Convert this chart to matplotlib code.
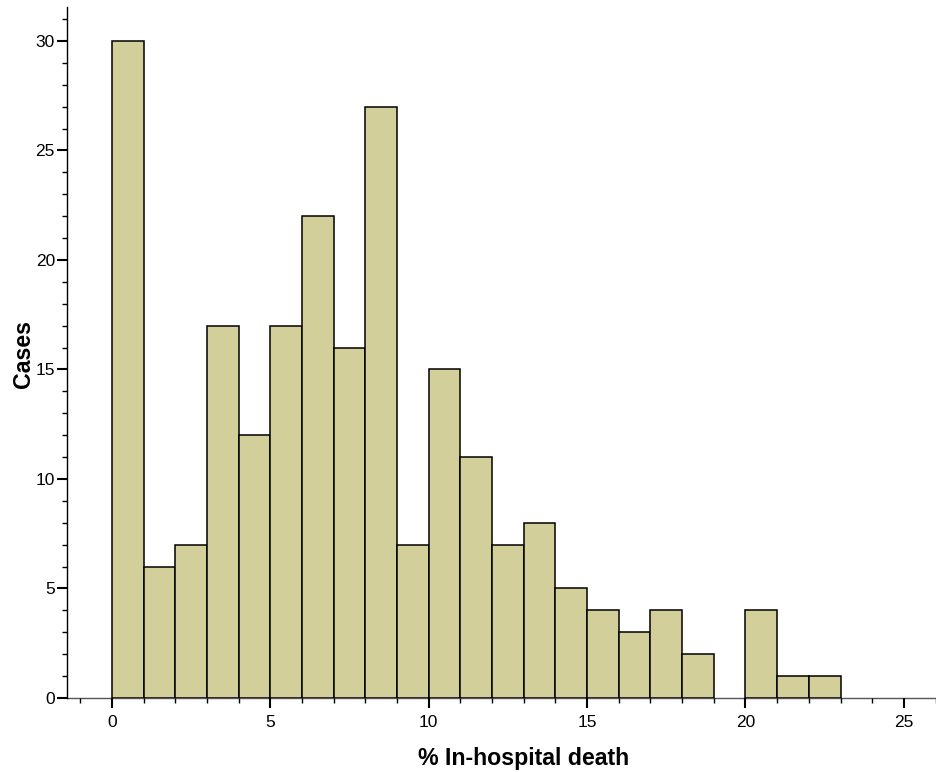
import numpy as np
import matplotlib.pyplot as plt
from matplotlib.ticker import MultipleLocator

plt.rcParams['font.family'] = ['Liberation Sans', 'DejaVu Sans']

# bin left edges (% in-hospital death) and counts
bin_left = np.arange(0, 23)
cases = np.array([30, 6, 7, 17, 12, 17, 22, 16, 27, 7, 15, 11, 7, 8, 5, 4, 3, 4, 2, 0, 4, 1, 1])
x_ticks = [0, 5, 10, 15, 20, 25]
y_ticks = [0, 5, 10, 15, 20, 25, 30]

fig = plt.figure(figsize=(9.37, 7.72), dpi=100)
ax = fig.add_axes([0.072, 0.0959, 0.9275, 0.895])

nz = cases > 0  # empty bins draw nothing
ax.bar(bin_left[nz], cases[nz], width=1, align='edge', color='#d3cf9a',
       edgecolor='black', linewidth=1.1, zorder=2)

ax.set_xlim(-1.4, 26.03)
ax.set_ylim(0, 31.55)
ax.set_xticks(x_ticks)
ax.set_yticks(y_ticks)
ax.xaxis.set_minor_locator(MultipleLocator(1))
ax.yaxis.set_minor_locator(MultipleLocator(1))
ax.tick_params(which='major', direction='out', length=7, width=1.5, labelsize=12.5)
ax.tick_params(axis='y', which='major', pad=2)
ax.tick_params(axis='x', which='major', pad=5)
ax.tick_params(which='minor', direction='out', length=3.5, width=1)

for s in ['top', 'right']:
    ax.spines[s].set_visible(False)
ax.spines['left'].set_linewidth(1)
ax.spines['bottom'].set_linewidth(1)
ax.spines['bottom'].set_color('#555555')
ax.spines['bottom'].set_zorder(1)

ax.set_xlabel('% In-hospital death', fontsize=16.7, fontweight='bold')
ax.xaxis.set_label_coords(0.525, -0.0705)
ax.set_ylabel('Cases', fontsize=16.7, fontweight='bold')
ax.yaxis.set_label_coords(-0.037, 0.498)

fig.savefig('out.png', dpi=100)
